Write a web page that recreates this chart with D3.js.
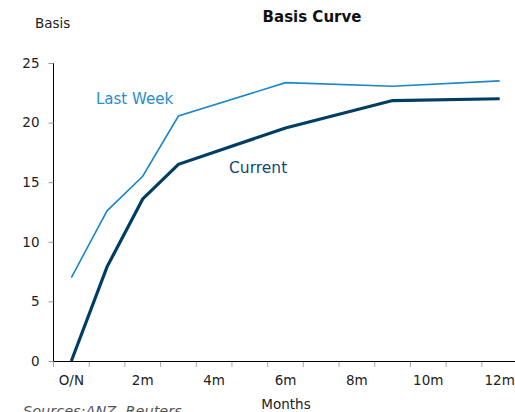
<!DOCTYPE html>
<html>
<head>
<meta charset="utf-8">
<script src="https://cdn.jsdelivr.net/npm/d3@7"></script>
<style>
  html, body { margin: 0; padding: 0; background: #fff; overflow: hidden; }
  svg { display: block; font-family: "DejaVu Sans", Verdana, sans-serif; }
</style>
</head>
<body>
<svg id="chart" width="515" height="412"></svg>
<script>
// Month buckets along the axis (every other one labelled)
const months = ["O/N","1m","2m","3m","4m","5m","6m","7m","8m","9m","10m","11m","12m"];
const shownLabels = ["O/N","2m","4m","6m","8m","10m","12m"];
// Tenors that carry a quote
const tenors = ["O/N","1m","2m","3m","6m","9m","12m"];
const currentBasis = [0, 7.9, 13.6, 16.5, 19.55, 21.85, 22.0];
const lastWeekBasis = [7.0, 12.6, 15.5, 20.55, 23.35, 23.05, 23.5];
const yTicks = [0, 5, 10, 15, 20, 25];

const svg = d3.select("#chart");
const plotLeft = 53.5, plotRight = 517.5, plotTop = 63, plotBottom = 361;

const x = d3.scaleBand().domain(months).range([plotLeft, plotRight]).paddingInner(0).paddingOuter(0);
const y = d3.scaleLinear().domain([0, 25]).range([plotBottom, plotTop]);
const cx = m => x(m) + x.bandwidth() / 2;

// Title and axis captions
svg.append("text").attr("x", 312).attr("y", 22).attr("text-anchor", "middle")
  .attr("font-size", 15).attr("font-weight", "bold").attr("fill", "#111").text("Basis Curve");
svg.append("text").attr("x", 35).attr("y", 28).attr("font-size", 13.5).attr("fill", "#222").text("Basis");
svg.append("text").attr("x", 286).attr("y", 409).attr("text-anchor", "middle")
  .attr("font-size", 13.5).attr("fill", "#222").text("Months");
svg.append("text").attr("x", 23).attr("y", 416).attr("font-size", 14.5)
  .attr("font-style", "italic").attr("fill", "#555").text("Sources:ANZ, Reuters");

// Y axis
const yAxis = svg.append("g").attr("transform", `translate(${plotLeft},0)`)
  .call(d3.axisLeft(y).tickValues(yTicks).tickSize(5).tickPadding(9).tickFormat(d3.format("d")));
yAxis.select(".domain").attr("stroke", "#000").attr("d", `M0,${plotTop}V${plotBottom}`);
yAxis.selectAll(".tick line").attr("stroke", "#999");
yAxis.selectAll(".tick text").attr("font-size", 13.5).attr("fill", "#222")
  .attr("font-family", "DejaVu Sans, Verdana, sans-serif");

// X axis: ticks on bucket boundaries, labels centred in buckets
const xAxis = svg.append("g").attr("transform", `translate(0,${plotBottom})`);
xAxis.append("line").attr("x1", plotLeft).attr("x2", plotRight).attr("y1", 0.5).attr("y2", 0.5)
  .attr("stroke", "#000");
const bounds = months.map(m => x(m)).concat([x(months[months.length - 1]) + x.bandwidth()]);
xAxis.selectAll("line.tk").data(bounds).join("line").attr("class", "tk")
  .attr("x1", d => d).attr("x2", d => d).attr("y1", 1).attr("y2", 6).attr("stroke", "#aaa");
xAxis.selectAll("text").data(shownLabels).join("text")
  .attr("x", d => cx(d)).attr("y", 24).attr("text-anchor", "middle")
  .attr("font-size", 13.5).attr("fill", "#222").text(d => d);

// Series lines
const line = d3.line().x((d, i) => cx(tenors[i])).y(d => y(d));
svg.append("path").datum(lastWeekBasis).attr("d", line)
  .attr("fill", "none").attr("stroke", "#1b87c7").attr("stroke-width", 1.6);
svg.append("path").datum(currentBasis).attr("d", line)
  .attr("fill", "none").attr("stroke", "#003d62").attr("stroke-width", 3.2);

// Series labels
svg.append("text").attr("x", 96).attr("y", 104).attr("font-size", 15).attr("fill", "#2a8ccc").text("Last Week");
svg.append("text").attr("x", 229).attr("y", 173).attr("font-size", 15.5).attr("fill", "#0e4a72").text("Current");
</script>
</body>
</html>
